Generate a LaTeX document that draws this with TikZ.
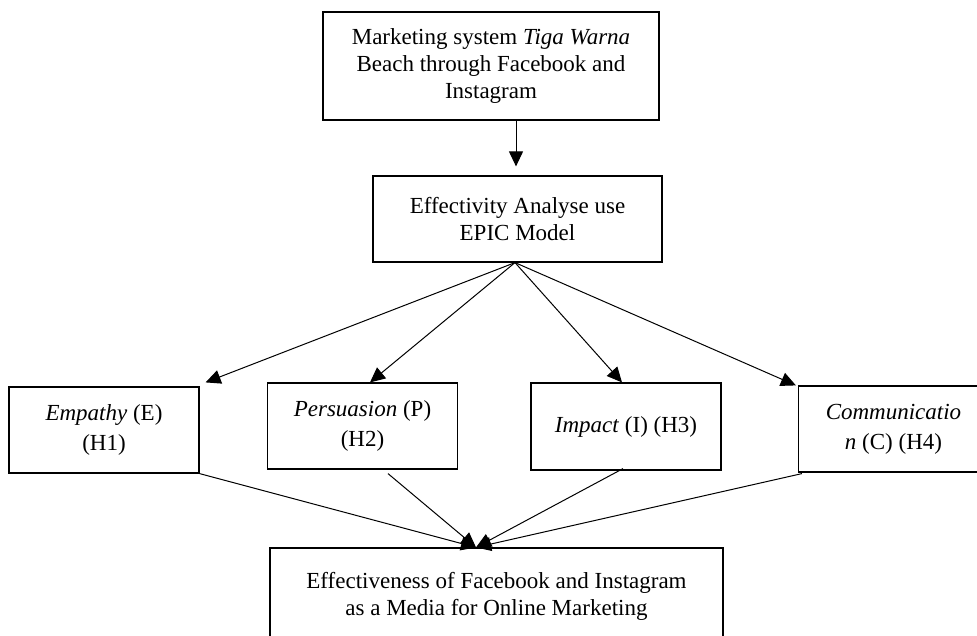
\documentclass[tikz,border=0pt]{standalone}
\usepackage{fontspec}
\setmainfont{Liberation Serif}
\usetikzlibrary{arrows.meta,calc}
\tikzset{
  box/.style={draw, line width=1.2pt, inner sep=0pt, align=center,
    font=\fontsize{23}{27}\selectfont},
  lowbox/.style={box, minimum width=190pt, minimum height=86pt,
    font=\fontsize{23}{30}\selectfont},
  arr/.style={line width=1pt, -{Triangle[length=15pt,width=14pt]}},
  ln/.style={line width=1pt}
}
\begin{document}
\begin{tikzpicture}[x=1pt,y=-1pt]
\useasboundingbox (0,0) rectangle (977,635);
\clip (0,0) rectangle (977,635);
\node[box, minimum width=336pt, minimum height=108pt] (top) at (491,66)
  {Marketing system \textit{Tiga Warna}\\Beach through Facebook and\\Instagram};
\node[box, minimum width=289pt, minimum height=86pt] (mid) at (517.5,219)
  {Effectivity Analyse use\\EPIC Model};
\node[lowbox] (emp) at (104,430) {\textit{Empathy} (E)\\(H1)};
\node[lowbox, minimum height=86pt] (per) at (362.5,426) {\textit{Persuasion} (P)\\(H2)};
\node[lowbox, minimum height=87pt] (imp) at (626,426.5) {\textit{Impact} (I) (H3)};
\node[lowbox] (com) at (893.5,429) {\textit{Communicatio}\\\textit{n} (C) (H4)};
\node[box, minimum width=453pt, minimum height=97pt] (bot) at (496.5,596.5)
  {Effectiveness of Facebook and Instagram\\as a Media for Online Marketing};

\coordinate (t1) at ($(mid.north)+(-1.5,-9)$);
\coordinate (m0) at ($(mid.south)+(-2.5,0)$);
\coordinate (te) at ($(emp.north east)+(6,-4)$);
\coordinate (tp) at ($(per.north)+(7.5,0)$);
\coordinate (ti) at ($(imp.north)+(-4,0)$);
\coordinate (tc) at ($(com.north west)+(-2,0)$);
\coordinate (conv) at ($(bot.north)+(-20.5,0)$);
\coordinate (sp) at ($(per.south)+(25.5,4)$);
\coordinate (si) at ($(imp.south)+(-3,-2)$);
\coordinate (sc) at ($(com.south west)+(4,1)$);

\draw[arr] (top.south -| t1) -- (t1);
\draw[arr] (m0) -- (te);
\draw[arr] (m0) -- (tp);
\draw[arr] (m0) -- (ti);
\draw[arr] (m0) -- (tc);
\draw[arr] (emp.south east) -- (conv);
\draw[arr] (sp) -- (conv);
\draw[arr] (si) -- (conv);
\draw[arr] (sc) -- (conv);
\end{tikzpicture}
\end{document}
